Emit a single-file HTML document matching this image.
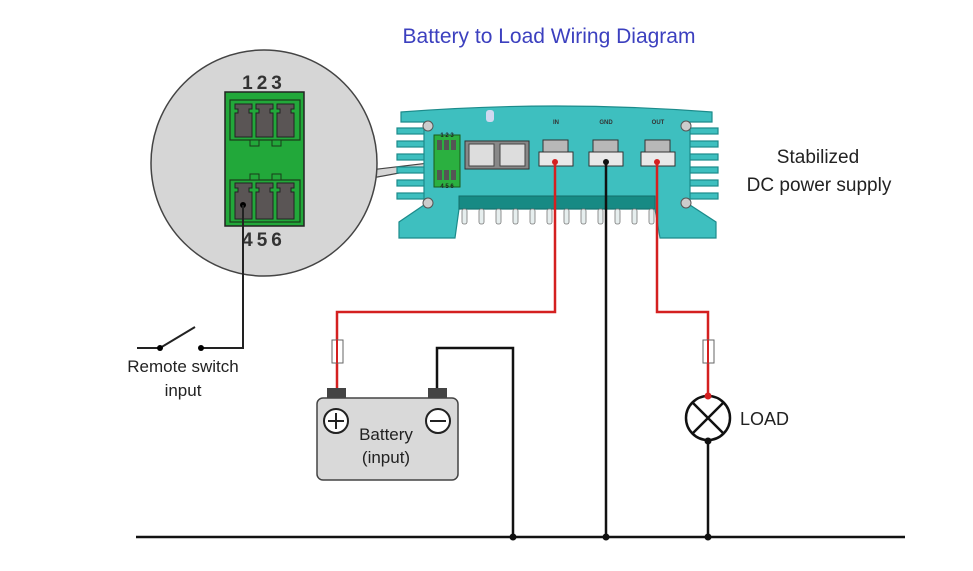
<!DOCTYPE html>
<html><head><meta charset="utf-8"><style>
html,body{margin:0;padding:0;background:#fff;}
svg{display:block;}
text{font-family:"Liberation Sans",sans-serif;}
</style></head><body>
<svg width="973" height="571" viewBox="0 0 973 571" xmlns="http://www.w3.org/2000/svg">
<rect width="973" height="571" fill="#fff"/>
<text x="549" y="43" text-anchor="middle" font-size="21" fill="#3c40bf">Battery to Load Wiring Diagram</text>

<!-- magnifier circle -->
<polygon points="370,170 437,162 437,166 372,178" fill="#d6d6d6" stroke="#444" stroke-width="1.2"/>
<circle cx="264" cy="163" r="113" fill="#d6d6d6" stroke="#444" stroke-width="1.5"/>
<text x="264" y="89" text-anchor="middle" font-size="19" font-weight="bold" fill="#333" letter-spacing="4">123</text>
<text x="264" y="246" text-anchor="middle" font-size="19" font-weight="bold" fill="#333" letter-spacing="4">456</text>
<rect x="225" y="92" width="79" height="134" fill="#22a83a" stroke="#222" stroke-width="1.5"/>
<rect x="230" y="100" width="70" height="40" fill="#22a83a" stroke="#1a3a1a" stroke-width="1.2"/>
<rect x="230" y="180" width="70" height="42" fill="#22a83a" stroke="#1a3a1a" stroke-width="1.2"/>
<rect x="250" y="140" width="9" height="6" fill="#22a83a" stroke="#1a3a1a"/>
<rect x="272" y="140" width="9" height="6" fill="#22a83a" stroke="#1a3a1a"/>
<rect x="250" y="174" width="9" height="6" fill="#22a83a" stroke="#1a3a1a"/>
<rect x="272" y="174" width="9" height="6" fill="#22a83a" stroke="#1a3a1a"/>
<g fill="#5a5555" stroke="#222" stroke-width="1">
<path d="M235,104h17v5h-3v4h3v24h-17v-24h3v-4h-3z"/>
<path d="M256,104h17v5h-3v4h3v24h-17v-24h3v-4h-3z"/>
<path d="M277,104h17v5h-3v4h3v24h-17v-24h3v-4h-3z"/>
<path d="M235,183h17v5h-3v4h3v27h-17v-27h3v-4h-3z"/>
<path d="M256,183h17v5h-3v4h3v27h-17v-27h3v-4h-3z"/>
<path d="M277,183h17v5h-3v4h3v27h-17v-27h3v-4h-3z"/>
</g>
<circle cx="243" cy="205" r="3" fill="#000"/>
<polyline points="243,205 243,348 203,348" fill="none" stroke="#222" stroke-width="2"/>
<line x1="137" y1="348" x2="160" y2="348" stroke="#222" stroke-width="2"/>
<line x1="160" y1="348" x2="195" y2="327" stroke="#222" stroke-width="2"/>
<circle cx="160" cy="348" r="3" fill="#000"/><circle cx="201" cy="348" r="3" fill="#000"/>
<text x="183" y="372" text-anchor="middle" font-size="17" fill="#222">Remote switch</text>
<text x="183" y="396" text-anchor="middle" font-size="17" fill="#222">input</text>

<!-- device -->
<g stroke="#1c8b8b" stroke-width="1.2" fill="#3ebfbf">
<rect x="397" y="128" width="34" height="6"/><rect x="397" y="141" width="34" height="6"/><rect x="397" y="154" width="34" height="6"/><rect x="397" y="167" width="34" height="6"/><rect x="397" y="180" width="34" height="6"/><rect x="397" y="193" width="34" height="6"/>
<rect x="684" y="128" width="34" height="6"/><rect x="684" y="141" width="34" height="6"/><rect x="684" y="154" width="34" height="6"/><rect x="684" y="167" width="34" height="6"/><rect x="684" y="180" width="34" height="6"/><rect x="684" y="193" width="34" height="6"/>
<path d="M401,112 Q555,100 712,112 L712,122 L690,122 L690,205 L716,222 L716,238 L660,238 L655,209 L459,209 L455,238 L399,238 L399,222 L424,205 L424,122 L401,122 Z"/>
</g>
<rect x="459" y="196" width="196" height="13" fill="#178a84" stroke="#136e6a"/>
<g fill="#e6eeee" stroke="#777" stroke-width="0.8">
<rect x="462" y="209" width="5" height="15" rx="2"/><rect x="479" y="209" width="5" height="15" rx="2"/><rect x="496" y="209" width="5" height="15" rx="2"/><rect x="513" y="209" width="5" height="15" rx="2"/><rect x="530" y="209" width="5" height="15" rx="2"/><rect x="547" y="209" width="5" height="15" rx="2"/><rect x="564" y="209" width="5" height="15" rx="2"/><rect x="581" y="209" width="5" height="15" rx="2"/><rect x="598" y="209" width="5" height="15" rx="2"/><rect x="615" y="209" width="5" height="15" rx="2"/><rect x="632" y="209" width="5" height="15" rx="2"/><rect x="649" y="209" width="5" height="15" rx="2"/>
</g>
<rect x="486" y="110" width="8" height="12" rx="3" fill="#cfd8f0"/>
<g fill="#ccc" stroke="#555"><circle cx="428" cy="126" r="5"/><circle cx="428" cy="203" r="5"/><circle cx="686" cy="126" r="5"/><circle cx="686" cy="203" r="5"/></g>
<rect x="434" y="135" width="26" height="52" fill="#2bb040" stroke="#1a5a1a"/>
<g fill="#555"><rect x="437" y="140" width="5" height="10"/><rect x="444" y="140" width="5" height="10"/><rect x="451" y="140" width="5" height="10"/><rect x="437" y="170" width="5" height="10"/><rect x="444" y="170" width="5" height="10"/><rect x="451" y="170" width="5" height="10"/></g>
<text x="447" y="137" text-anchor="middle" font-size="6" font-weight="bold" fill="#222">1 2 3</text>
<text x="447" y="188" text-anchor="middle" font-size="6" font-weight="bold" fill="#222">4 5 6</text>
<rect x="465" y="141" width="64" height="28" fill="#888" stroke="#333"/>
<rect x="469" y="144" width="25" height="22" fill="#ddd" stroke="#444"/><rect x="500" y="144" width="25" height="22" fill="#ddd" stroke="#444"/>
<g font-size="6" font-weight="bold" fill="#333" text-anchor="middle"><text x="556" y="124">IN</text><text x="606" y="124">GND</text><text x="658" y="124">OUT</text></g>
<g fill="#b8b8b8" stroke="#333" stroke-width="1">
<rect x="543" y="140" width="25" height="16"/><rect x="539" y="152" width="34" height="14" fill="#e8e8e8"/>
<rect x="593" y="140" width="25" height="16"/><rect x="589" y="152" width="34" height="14" fill="#e8e8e8"/>
<rect x="645" y="140" width="25" height="16"/><rect x="641" y="152" width="34" height="14" fill="#e8e8e8"/>
</g>
<text x="818" y="163" text-anchor="middle" font-size="19" fill="#222">Stabilized</text>
<text x="819" y="191" text-anchor="middle" font-size="19" fill="#222">DC power supply</text>

<!-- wires -->
<g fill="none" stroke-width="2.5">
<polyline points="555,162 555,312 337,312 337,390" stroke="#d42020"/>
<polyline points="657,162 657,312 708,312 708,396" stroke="#d42020"/>
<line x1="606" y1="162" x2="606" y2="537" stroke="#111"/>
<polyline points="437,390 437,348 513,348 513,537" stroke="#111"/>
<line x1="708" y1="440" x2="708" y2="537" stroke="#111"/>
<line x1="136" y1="537" x2="905" y2="537" stroke="#111"/>
</g>
<circle cx="555" cy="162" r="3" fill="#d42020"/><circle cx="657" cy="162" r="3" fill="#d42020"/><circle cx="606" cy="162" r="3" fill="#111"/>
<circle cx="513" cy="537" r="3.5" fill="#111"/><circle cx="606" cy="537" r="3.5" fill="#111"/><circle cx="708" cy="537" r="3.5" fill="#111"/>
<rect x="332" y="340" width="11" height="23" fill="#fff" stroke="#666"/>
<rect x="703" y="340" width="11" height="23" fill="#fff" stroke="#666"/>
<line x1="337" y1="340" x2="337" y2="363" stroke="#d42020" stroke-width="2"/>
<line x1="708" y1="340" x2="708" y2="363" stroke="#d42020" stroke-width="2"/>

<!-- battery -->
<rect x="327" y="388" width="19" height="11" fill="#444"/><rect x="428" y="388" width="19" height="11" fill="#444"/>
<rect x="317" y="398" width="141" height="82" rx="6" fill="#d9d9d9" stroke="#444" stroke-width="1.5"/>
<circle cx="336" cy="421" r="12" fill="#fff" stroke="#222" stroke-width="2"/>
<path d="M328,421h16M336,413v16" stroke="#222" stroke-width="2"/>
<circle cx="438" cy="421" r="12" fill="#fff" stroke="#222" stroke-width="2"/>
<path d="M430,421h16" stroke="#222" stroke-width="2"/>
<text x="386" y="440" text-anchor="middle" font-size="17" fill="#222">Battery</text>
<text x="386" y="463" text-anchor="middle" font-size="17" fill="#222">(input)</text>

<!-- load -->
<circle cx="708" cy="418" r="22" fill="#fff" stroke="#111" stroke-width="2.5"/>
<path d="M692,402L724,434M724,402L692,434" stroke="#111" stroke-width="2.5"/>
<circle cx="708" cy="396" r="3.5" fill="#d42020"/><circle cx="708" cy="441" r="3.5" fill="#111"/>
<text x="740" y="425" font-size="18" fill="#222">LOAD</text>
</svg>
</body></html>
